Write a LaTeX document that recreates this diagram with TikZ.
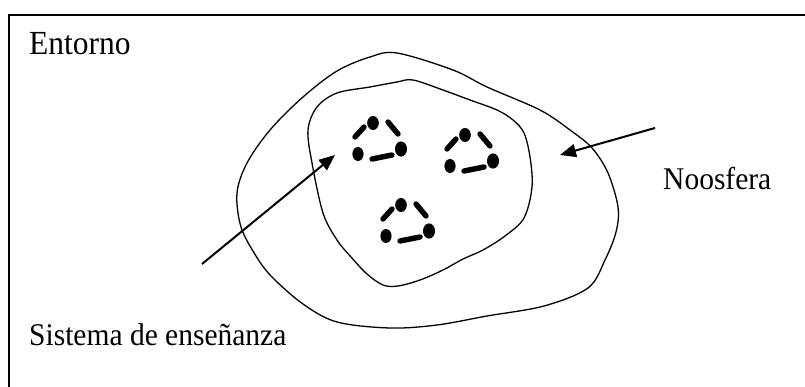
\documentclass[tikz,border=0pt]{standalone}
\usepackage{fontspec}
\setmainfont{Liberation Serif}
\usetikzlibrary{arrows.meta}
\newcommand{\tallText}[1]{\scalebox{1}[1.07]{#1}}
\begin{document}
\begin{tikzpicture}[x=1pt,y=-1pt,
  frameline/.style={line width=1.6pt},
  blob/.style={line width=1.3pt},
  pointer/.style={line width=2pt,-{Triangle[length=16pt,width=13pt]}},
  label/.style={anchor=base west,inner sep=0pt,font=\fontsize{29.5}{36}\selectfont},
  dotmark/.style={fill=black},
  dashmark/.style={line width=5.4pt,line cap=round},
  cluster/.pic={
    \fill[dotmark] (0,0) ellipse [x radius=5.8pt,y radius=7pt];
    \fill[dotmark] (-15,31) ellipse [x radius=5.6pt,y radius=7pt];
    \fill[dotmark] (28,26) ellipse [x radius=6pt,y radius=7.6pt];
    \draw[dashmark] (-18,14) -- (-9,4);
    \draw[dashmark] (15,-1) -- (25,11);
    \draw[dashmark] (-1,36) -- (19,32);
  }]
\useasboundingbox (0,0) rectangle (805,387);
% frame
\draw[frameline] (9,387) -- (9,15) -- (805,15);
% outer region (Noosfera)
\draw[blob] plot[smooth cycle,tension=0.55] coordinates {
  (397,53) (453,70) (487,87) (540,110) (570,130) (592,148) (608,173)
  (618,207) (616,232) (605,260) (588,288) (544,306) (487,316) (437,325)
  (390,328) (337,322) (303,304) (272,277) (256,256) (241,227) (237,193)
  (247,163) (270,130) (303,97) (337,71) (370,57)};
% inner region (Sistema de enseñanza)
\draw[blob] plot[smooth cycle,tension=0.55] coordinates {
  (413,80) (443,90) (470,100) (497,110) (513,120) (524,133) (530,157)
  (532,187) (524,218) (505,236) (483,250) (463,259) (443,270) (420,280)
  (398,286) (383,285) (367,274) (351,257) (337,240) (323,213) (312,163)
  (308,130) (317,107) (337,93) (370,87) (397,82)};
% clusters
\pic at (373,123) {cluster};
\pic at (465,135) {cluster};
\pic at (401,205) {cluster};
% labels
\node[label,font=\fontsize{31.5}{36}\selectfont] (entorno) at (29,55) {\tallText{Entorno}};
\node[label] (noosfera) at (663,190) {\tallText{Noosfera}};
\node[label] (sistema) at (29,345) {\tallText{Sistema de enseñanza}};
% arrows
\coordinate (sA) at (202,264);
\coordinate (sB) at (335,155);
\coordinate (nA) at (655,128);
\coordinate (nB) at (560,155);
\draw[pointer] (sA) -- (sB);
\draw[pointer] (nA) -- (nB);
\end{tikzpicture}
\end{document}
